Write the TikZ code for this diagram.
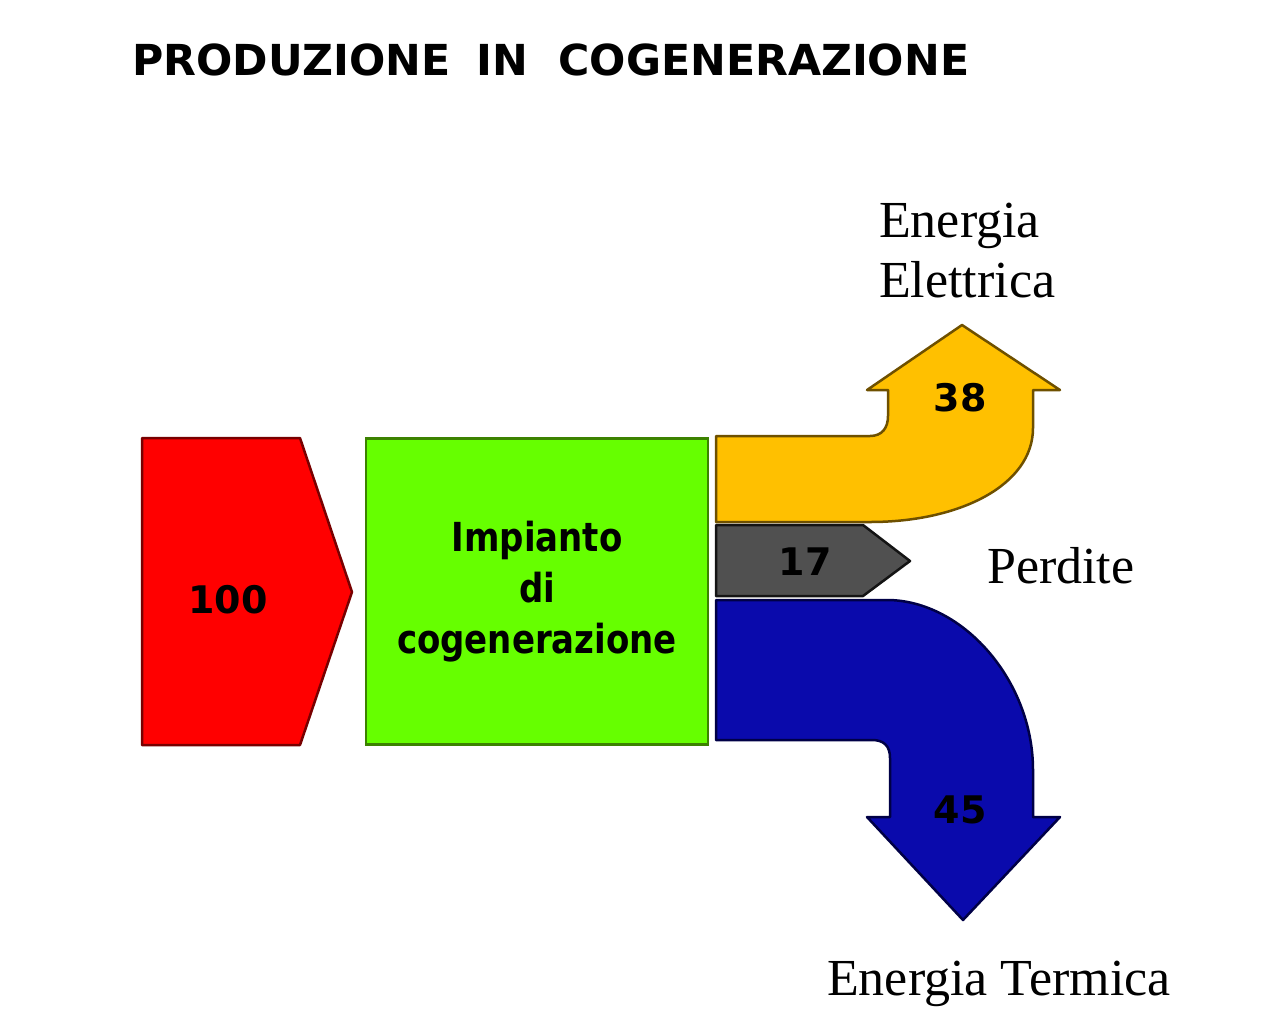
\documentclass[tikz,border=0pt]{standalone}
\usepackage{fontspec}
\setmainfont{Liberation Serif}
\newfontfamily\dvs{DejaVu Sans}
\definecolor{redfill}{RGB}{255,0,0}
\definecolor{redline}{RGB}{120,0,0}
\definecolor{greenfill}{RGB}{102,255,0}
\definecolor{greenline}{RGB}{60,130,0}
\definecolor{yelfill}{RGB}{255,192,0}
\definecolor{yelline}{RGB}{110,80,0}
\definecolor{grayfill}{RGB}{80,80,80}
\definecolor{grayline}{RGB}{20,20,20}
\definecolor{bluefill}{RGB}{10,10,172}
\definecolor{blueline}{RGB}{0,0,70}
\begin{document}
\begin{tikzpicture}[x=1pt,y=-1pt,
  flow/.style={line width=2.5pt, line join=round},
  num/.style={font=\dvs\bfseries\fontsize{38}{38}\selectfont, inner sep=0pt},
  lbl/.style={font=\fontsize{52}{60}\selectfont, anchor=base west, inner sep=0pt},
  plantbox/.style={draw=greenline, fill=greenfill, line width=2.5pt, minimum width=342pt, minimum height=306pt, inner sep=0pt},
  planttxt/.style={font=\dvs\bfseries\fontsize{40}{51}\selectfont, inner sep=0pt},
  ttl/.style={font=\dvs\bfseries\fontsize{42.7}{43}\selectfont, anchor=base west, inner sep=0pt}]
\useasboundingbox (0,0) rectangle (1274,1034);
% title
\node[ttl] (title) at (132,75) {PRODUZIONE\hspace{26pt}IN\hspace{30pt}COGENERAZIONE};
% input arrow
\draw[flow, fill=redfill, draw=redline] (142,438) -- (300,438) -- (352,592) -- (300,745) -- (142,745) -- cycle;
\node[num] (n100) at (228,600) {100};
% plant
\node[plantbox] (plant) at (537,591.5) {};
\node[planttxt] (planttext) at (537,592) {\scalebox{0.85}[1]{\begin{tabular}{@{}c@{}}Impianto\\di\\cogenerazione\end{tabular}}};
% electric output
\draw[flow, fill=yelfill, draw=yelline] (716,436) -- (870,436) .. controls (882,436) and (888,428) .. (888,416) -- (888,390) -- (867,390) -- (962,325) -- (1060,390) -- (1033,390) -- (1033,428) .. controls (1033,485) and (960,522) .. (870,522) -- (716,522) -- cycle;
\node[num] (n38) at (960,398) {38};
% losses
\draw[flow, fill=grayfill, draw=grayline] (716,525) -- (863,525) -- (910,561) -- (863,596) -- (716,596) -- cycle;
\node[num] (n17) at (805,562) {17};
% thermal output
\draw[flow, fill=bluefill, draw=blueline] (716,600) -- (887,600) .. controls (962,600) and (1033,680) .. (1033,770) -- (1033,817) -- (1060,817) -- (963,920) -- (867,817) -- (890,817) -- (890,758) .. controls (890,746) and (884,740) .. (872,740) -- (716,740) -- cycle;
\node[num] (n45) at (960,810) {45};
% labels
\node[lbl] (elet1) at (879,237) {Energia};
\node[lbl] (elet2) at (879,297) {Elettrica};
\node[lbl] (perd) at (987,583) {Perdite};
\node[lbl] (term) at (827,995) {Energia Termica};
\end{tikzpicture}
\end{document}
